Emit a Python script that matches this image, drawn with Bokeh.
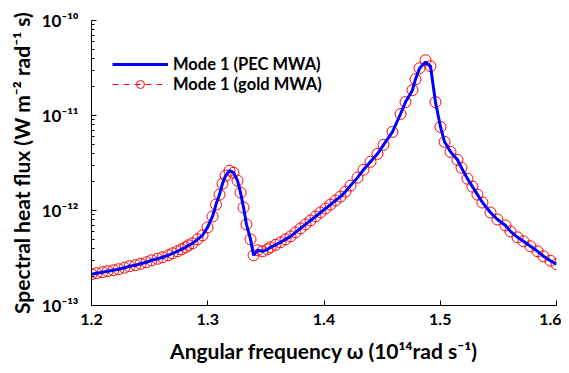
from bokeh.plotting import figure
from bokeh.models import (FixedTicker, CustomJSTickFormatter, Legend, LegendItem, Range1d)
from bokeh.embed import file_html
from bokeh.resources import INLINE

# Angular frequency (1e14 rad/s)
omega = [1.2000,1.2043,1.2095,1.2138,1.2189,1.2232,1.2284,1.2327,1.2378,1.2422,
         1.2473,1.2516,1.2568,1.2611,1.2662,1.2697,1.2740,1.2774,1.2809,1.2834,
         1.2869,1.2912,1.2955,1.2998,1.3041,1.3071,1.3101,1.3127,1.3153,1.3187,
         1.3222,1.3256,1.3282,1.3308,1.3333,1.3368,1.3394,1.3428,1.3471,1.3514,
         1.3540,1.3583,1.3626,1.3669,1.3712,1.3755,1.3798,1.3841,1.3884,1.3927,
         1.3970,1.4013,1.4056,1.4099,1.4142,1.4185,1.4228,1.4288,1.4340,1.4400,
         1.4460,1.4512,1.4589,1.4658,1.4701,1.4761,1.4787,1.4822,1.4873,1.4916,
         1.4959,1.5002,1.5037,1.5088,1.5148,1.5183,1.5234,1.5277,1.5320,1.5363,
         1.5432,1.5492,1.5561,1.5604,1.5665,1.5716,1.5776,1.5837,1.5888,1.5948,
         1.6000]

# Spectral heat flux in units of 1e-13 W m^-2 rad^-1 s
flux_pec_e13 = [2.137,2.189,2.243,2.297,2.353,2.410,2.499,2.592,2.655,2.753,
                2.853,2.995,3.105,3.219,3.379,3.545,3.722,3.905,4.098,4.301,
                4.513,4.970,5.473,6.637,8.65,11.55,14.70,19.17,23.25,26.23,
                25.00,20.61,15.43,10.75,7.135,4.970,3.379,3.813,3.722,3.905,
                4.098,4.353,4.623,4.970,5.339,5.885,6.479,7.135,7.857,8.65,
                9.53,10.49,11.55,12.73,14.01,15.81,18.27,22.16,26.88,32.59,
                39.52,49.11,67.17,103.7,138.4,184.9,241.0,314.4,365.0,329.8,
                138.4,75.77,52.79,41.47,34.20,28.20,21.63,17.83,14.70,12.13,
                9.53,8.05,6.965,6.026,5.215,4.735,4.198,3.722,3.298,2.959,
                2.720]
flux_gold_e13 = [2.137,2.189,2.243,2.297,2.353,2.410,2.499,2.592,2.655,2.753,
                 2.853,2.995,3.105,3.219,3.379,3.545,3.722,3.905,4.098,4.301,
                 4.513,4.970,5.473,6.637,8.65,11.55,14.70,19.17,23.25,26.23,
                 25.00,20.61,15.43,10.75,7.135,4.970,3.379,3.813,3.722,3.905,
                 4.098,4.353,4.623,4.970,5.339,5.885,6.479,7.135,7.857,8.65,
                 9.53,10.49,11.55,12.73,14.01,15.81,18.27,22.16,26.88,32.59,
                 39.52,49.11,67.17,103.7,138.4,184.9,241.0,314.4,381.2,329.8,
                 138.4,75.77,52.79,41.47,34.20,28.20,21.63,17.83,14.70,12.13,
                 9.53,8.05,6.965,6.026,5.215,4.735,4.198,3.722,3.298,2.959,
                 2.720]
UNIT = 1e-13
flux_pec = [v * UNIT for v in flux_pec_e13]
flux_gold = [v * UNIT for v in flux_gold_e13]

x_ticks = [1.2, 1.3, 1.4, 1.5, 1.6]
y_ticks = [1e-13, 1e-12, 1e-11, 1e-10]
y_minor = [m * 10.0 ** e for e in (-13, -12, -11) for m in range(2, 10)]

FONT = "Lato"

p = figure(width=561, height=365, output_backend="svg", toolbar_location=None,
           y_axis_type="log",
           x_range=Range1d(1.2, 1.6), y_range=Range1d(1e-13, 1e-10),
           min_border_left=91, min_border_right=5, min_border_top=20,
           min_border_bottom=58)
p.outline_line_color = None
p.xgrid.visible = False
p.ygrid.visible = False
p.background_fill_color = "white"
p.border_fill_color = "white"

gold_line = p.line(omega, flux_gold, line_color="red", line_width=1, line_dash="6 5")
gold_pts = p.scatter(omega, flux_gold, marker="circle", size=11, fill_color=None,
                     line_color="red", line_width=1)
pec_line = p.line(omega, flux_pec, line_color="#0000ff", line_width=3)

# axes
for ax in (p.xaxis[0], p.yaxis[0]):
    ax.axis_line_color = "black"
    ax.axis_line_width = 1
    ax.major_tick_in = 5
    ax.major_tick_out = 0
    ax.minor_tick_in = 3
    ax.minor_tick_out = 0
    ax.major_tick_line_color = "black"
    ax.minor_tick_line_color = "black"
    ax.major_label_text_font = FONT
    ax.major_label_text_font_style = "bold"
    ax.major_label_text_font_size = "16px"
    ax.major_label_text_color = "black"
    ax.axis_label_text_font = FONT
    ax.axis_label_text_font_style = "bold"
    ax.axis_label_text_font_size = "21px"
    ax.axis_label_text_color = "black"

p.xaxis.ticker = FixedTicker(ticks=x_ticks)
p.xaxis.minor_tick_line_color = None
p.xaxis.major_label_standoff = 8
p.xaxis.axis_label = "Angular frequency \u03c9 (10\u00b9\u2074rad s\u207b\u00b9)"
p.xaxis.axis_label_standoff = 10

p.yaxis.ticker = FixedTicker(ticks=y_ticks, minor_ticks=y_minor)
p.yaxis.formatter = CustomJSTickFormatter(code="""
const sup = {'-':'\u207b','0':'\u2070','1':'\u00b9','2':'\u00b2','3':'\u00b3','4':'\u2074',
             '5':'\u2075','6':'\u2076','7':'\u2077','8':'\u2078','9':'\u2079'};
const e = String(Math.round(Math.log10(tick)));
let s = '';
for (const c of e) { s += sup[c]; }
return '10' + s;
""")
p.yaxis.major_label_text_font_size = "17px"
p.yaxis.major_label_standoff = 13
p.yaxis.axis_label = "Spectral heat flux (W m\u207b\u00b2 rad\u207b\u00b9 s)"
p.yaxis.axis_label_standoff = 5

legend = Legend(items=[
    LegendItem(label="Mode 1 (PEC MWA)", renderers=[pec_line]),
    LegendItem(label="Mode 1 (gold MWA)", renderers=[gold_line, gold_pts]),
], location=(21, 211))
legend.border_line_color = None
legend.background_fill_alpha = 0
legend.padding = 0
legend.margin = 0
legend.spacing = 0
legend.glyph_width = 56
legend.glyph_height = 20
legend.label_height = 20
legend.label_standoff = 5
legend.label_text_font = FONT
legend.label_text_font_style = "bold"
legend.label_text_font_size = "16.5px"
legend.label_text_color = "black"
p.add_layout(legend)

open("out.html", "w").write(file_html(p, INLINE))
